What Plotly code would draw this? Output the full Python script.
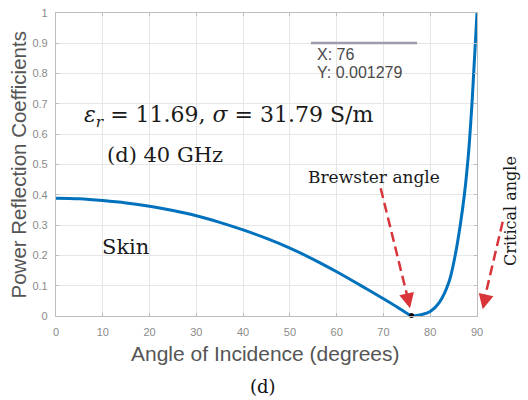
import plotly.graph_objects as go

# ---- data ----
angles = [0, 5, 10, 15, 20, 25, 30, 35, 40, 45, 50, 55, 60, 65, 70, 73, 75, 76,
          77, 78, 80, 82, 84, 85.3, 86.4, 87.3, 88.2, 89, 90]
reflection = [0.389, 0.387, 0.381, 0.373, 0.362, 0.348, 0.331, 0.309, 0.284,
              0.256, 0.224, 0.187, 0.146, 0.102, 0.057, 0.029, 0.009, 0.0013,
              0.0015, 0.004, 0.015, 0.046, 0.112, 0.197, 0.298, 0.400, 0.540, 0.720, 1.0]
tip_x = [76]
tip_y = [0.001279]
x_ticks = [0, 10, 20, 30, 40, 50, 60, 70, 80, 90]
x_ticklabels = ["0", "10", "20", "30", "40", "50", "60", "70", "80", "90"]
y_ticks = [0, 0.1, 0.2, 0.3, 0.4, 0.5, 0.6, 0.7, 0.8, 0.9, 1]
y_ticklabels = ["0", "0.1", "0.2", "0.3", "0.4", "0.5", "0.6", "0.7", "0.8", "0.9", "1"]

W, H = 528, 400
L, R, T, B = 56, 51, 13, 84

def px(x):
    return (x - L) / (W - L - R)

def py(y):
    return (H - B - y) / (H - T - B)

fig = go.Figure()
fig.add_trace(go.Scatter(x=angles, y=reflection, mode="lines",
                         line=dict(color="#0072BD", width=3, shape="spline", smoothing=1.0),
                         showlegend=False, hoverinfo="skip"))
fig.add_trace(go.Scatter(x=tip_x, y=tip_y, mode="markers",
                         marker=dict(color="black", size=5),
                         showlegend=False, hoverinfo="skip", cliponaxis=False))

serif = "DejaVu Serif"
sans = "Liberation Sans, Arial, sans-serif"
red = "#d8343a"

shapes = [
    # datatip top line
    dict(type="line", xref="x", yref="y", x0=54.5, x1=77.2, y0=0.901, y1=0.901,
         line=dict(color="#9c9cac", width=2.5)),
    # Brewster dashed arrow
    dict(type="line", xref="paper", yref="paper", x0=px(380.7), y0=py(188.3),
         x1=px(407.5), y1=py(297), line=dict(color=red, width=2.5, dash="10px,5px")),
    # Critical dashed arrow
    dict(type="line", xref="paper", yref="paper", x0=px(502.7), y0=py(221.7),
         x1=px(484.5), y1=py(299), line=dict(color=red, width=2.5, dash="10px,5px")),
]

annotations = [
    dict(x=5.6, y=0.660, xref="x", yref="y", xanchor="left", yanchor="middle",
         text="<i>ε<sub>r</sub></i> = 11.69, <i>σ</i> = 31.79 S/m", showarrow=False,
         font=dict(family=serif, size=22, color="#1a1a1a")),
    dict(x=10.5, y=0.531, xref="x", yref="y", xanchor="left", yanchor="middle",
         text="(d) 40 GHz", showarrow=False, font=dict(family=serif, size=21, color="#1a1a1a")),
    dict(x=9.4, y=0.229, xref="x", yref="y", xanchor="left", yanchor="middle",
         text="Skin", showarrow=False, font=dict(family=serif, size=21, color="#1a1a1a")),
    dict(x=53.4, y=0.46, xref="x", yref="y", xanchor="left", yanchor="middle",
         text="Brewster angle", showarrow=False, font=dict(family=serif, size=17, color="#1a1a1a")),
    dict(x=px(510), y=py(211), xref="paper", yref="paper", xanchor="center", yanchor="middle",
         text="Critical angle", textangle=-90, showarrow=False,
         font=dict(family=serif, size=16, color="#1a1a1a")),
    dict(x=55.4, y=0.862, xref="x", yref="y", xanchor="left", yanchor="middle",
         text="X: 76", showarrow=False, font=dict(family=sans, size=16, color="#4a4a4a")),
    dict(x=55.4, y=0.804, xref="x", yref="y", xanchor="left", yanchor="middle",
         text="Y: 0.001279", showarrow=False, font=dict(family=sans, size=16, color="#4a4a4a")),
    # axis titles
    dict(x=px(17.5), y=py(165), xref="paper", yref="paper", xanchor="center", yanchor="middle",
         text="Power Reflection Coefficients", textangle=-90, showarrow=False,
         font=dict(family=sans, size=20.5, color="#555")),
    dict(x=px(265), y=py(353), xref="paper", yref="paper", xanchor="center", yanchor="middle",
         text="Angle of Incidence (degrees)", showarrow=False,
         font=dict(family=sans, size=21, color="#555")),
    dict(x=px(263), y=py(386), xref="paper", yref="paper", xanchor="center", yanchor="middle",
         text="(d)", showarrow=False, font=dict(family=serif, size=18, color="#111")),
    # arrowheads
    dict(x=px(410), y=py(308.3), xref="paper", yref="paper", ax=-3, ay=-13,
         text="", showarrow=True, arrowhead=2, arrowsize=1.2, arrowwidth=2.5, arrowcolor=red),
    dict(x=px(482.7), y=py(309.3), xref="paper", yref="paper", ax=3, ay=-13,
         text="", showarrow=True, arrowhead=2, arrowsize=1.2, arrowwidth=2.5, arrowcolor=red),
]

axis_common = dict(showgrid=True, gridcolor="#e6e6e6", gridwidth=1, zeroline=False,
                   showline=True, linecolor="#bdbdbd", linewidth=1.2, mirror="ticks",
                   ticks="inside", ticklen=3, tickcolor="#bdbdbd",
                   tickfont=dict(family=sans, size=11, color="#8a8a8a"))

fig.update_layout(
    width=W, height=H, margin=dict(l=L, r=R, t=T, b=B, autoexpand=False),
    paper_bgcolor="white", plot_bgcolor="white",
    xaxis=dict(range=[0, 90], tickvals=x_ticks, ticktext=x_ticklabels,
               ticklabelstandoff=6, **axis_common),
    yaxis=dict(range=[0, 1], tickvals=y_ticks, ticktext=y_ticklabels,
               ticklabelstandoff=5, **axis_common),
    shapes=shapes, annotations=annotations, showlegend=False,
)

fig.write_html("out.html", config={"displayModeBar": False},
               post_script="document.body.style.margin='0px';document.body.style.padding='0px';")
